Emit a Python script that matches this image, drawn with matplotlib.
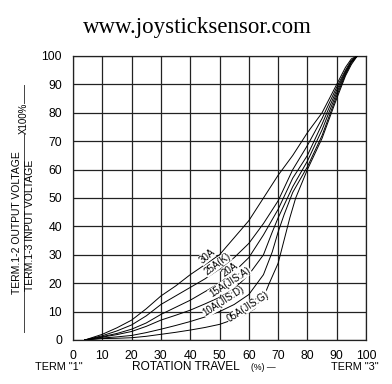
import matplotlib
matplotlib.use("Agg")
import matplotlib.pyplot as plt
from matplotlib.lines import Line2D

plt.rcParams['font.family'] = ['Liberation Sans', 'DejaVu Sans']

# rotation travel (%) -> output ratio (%), one list per taper
x_30a = [4, 10, 15, 20, 25, 30, 35, 40, 45, 50, 55, 60, 65, 70, 75, 80, 85, 90, 93, 95, 97]
y_30a = [0, 2, 4.3, 7, 11, 15.5, 19, 23, 26.5, 30, 36, 42, 50, 58, 65, 73, 80, 90, 96, 99, 100]

x_25a = [4, 10, 15, 20, 25, 30, 35, 40, 45, 50, 55, 60, 65, 70, 75, 80, 85, 90, 93, 95, 97]
y_25a = [0, 1.5, 3.2, 5.3, 8.5, 12.5, 15.5, 18.5, 21.5, 25, 29, 34, 41, 49, 60, 68.5, 78, 89, 95, 98.5, 100]

x_20a = [4, 10, 15, 20, 25, 30, 35, 40, 45, 50, 55, 60, 65, 70, 75, 80, 85, 90, 93, 95, 97]
y_20a = [0, 1.2, 2.3, 3.8, 6, 9, 11.5, 14, 17, 20, 24, 29, 37, 46, 57, 65, 76, 88, 94.5, 98, 100]

x_15a = [4, 10, 15, 20, 25, 30, 35, 40, 45, 50, 55, 60, 65, 68, 70, 75, 80, 85, 90, 93, 95, 97]
y_15a = [0, 1, 1.9, 3, 4.8, 7, 8.7, 10.5, 12.7, 15, 18, 23, 30, 38, 43, 54, 63, 74, 87, 94, 98, 100]

x_10a = [4, 10, 15, 20, 25, 30, 35, 40, 45, 50, 55, 60, 65, 68, 70, 72, 75, 80, 85, 90, 93, 95, 97]
y_10a = [0, 0.7, 1.1, 1.6, 2.6, 3.8, 5.1, 6.5, 8.1, 10, 12.5, 16, 23, 31, 38, 44, 52, 61, 72, 86, 93.5, 97.5, 100]

x_05a = [4, 10, 15, 20, 25, 30, 35, 40, 45, 50, 57, 62, 65, 67, 70, 72, 74, 76, 80, 85, 90, 93, 95, 97]
y_05a = [0, 0.5, 0.6, 0.8, 1.3, 2, 2.7, 3.5, 4.4, 5.5, 8, 11, 15, 20, 27, 35, 43, 50, 60, 71, 85, 93, 97, 100]

curves = [(x_30a, y_30a), (x_25a, y_25a), (x_20a, y_20a),
          (x_15a, y_15a), (x_10a, y_10a), (x_05a, y_05a)]

curve_names = ["30A", "25A(K)", "20A", "15A(JIS:A)", "10A(JIS:D)", "05A(JIS:G)"]
label_x = [45.7, 49.2, 53.6, 53.6, 51.5, 59.7]
label_y = [29.5, 26.7, 24.9, 20.4, 13.7, 11.6]
label_rot = [40, 37, 35, 33, 33, 33]

ticks = list(range(0, 101, 10))

W, H = 392, 384
fig = plt.figure(figsize=(W / 100, H / 100), dpi=100)
ax = fig.add_axes([73 / W, 1 - 340 / H, (366 - 73) / W, (340 - 56) / H])

for xs, ys in curves:
    ax.plot(xs, ys, color='black', lw=0.7, zorder=3)

for name, lx, ly, rot in zip(curve_names, label_x, label_y, label_rot):
    ax.text(lx, ly, name, rotation=rot, fontsize=7, ha='center', va='center',
            rotation_mode='anchor', zorder=4,
            bbox=dict(facecolor='white', edgecolor='none', pad=0.3))

ax.set_xlim(0, 100)
ax.set_ylim(0, 100)
ax.set_xticks(ticks)
ax.set_yticks(ticks)
ax.set_xticklabels([str(t) for t in ticks], fontsize=8.8)
ax.set_yticklabels([str(t) for t in ticks], fontsize=8.8)
ax.tick_params(length=0)
ax.tick_params(axis='x', pad=7.5)
ax.tick_params(axis='y', pad=8)
ax.grid(True, color='#222222', lw=0.9)
for s in ax.spines.values():
    s.set_color('#222222')
    s.set_linewidth(0.9)

fig.text(197 / W, 1 - 28 / H, "www.joysticksensor.com", family='Liberation Serif',
         fontsize=16.5, ha='center', va='center')

# bottom captions
fig.text(59 / W, 1 - 367 / H, 'TERM "1"', fontsize=7.8, ha='center', va='center')
fig.text(132 / W, 1 - 367 / H, 'ROTATION TRAVEL', fontsize=8.6, ha='left', va='center')
fig.text(251 / W, 1 - 368 / H, '(%) \u2014', fontsize=6.3, ha='left', va='center')
fig.text(355 / W, 1 - 367 / H, 'TERM "3"', fontsize=7.8, ha='center', va='center')

# y axis caption as a fraction
fig.text(17 / W, 1 - 223 / H, "TERM.1-2 OUTPUT VOLTAGE", rotation=90,
         fontsize=7.5, ha='center', va='center')
fig.text(30 / W, 1 - 225 / H, "TERM.1-3 INPUT VOLTAGE", rotation=90,
         fontsize=7.5, ha='center', va='center')
fig.add_artist(Line2D([23.5 / W, 23.5 / W], [1 - 332 / H, 1 - 134 / H],
                      color='#444444', lw=0.7))
fig.add_artist(Line2D([23.5 / W, 23.5 / W], [1 - 103 / H, 1 - 85 / H],
                      color='#444444', lw=0.7))
fig.text(23.5 / W, 1 - 118 / H, "X100%", rotation=90, fontsize=7,
         ha='center', va='center')

fig.savefig("out.png", dpi=100)
